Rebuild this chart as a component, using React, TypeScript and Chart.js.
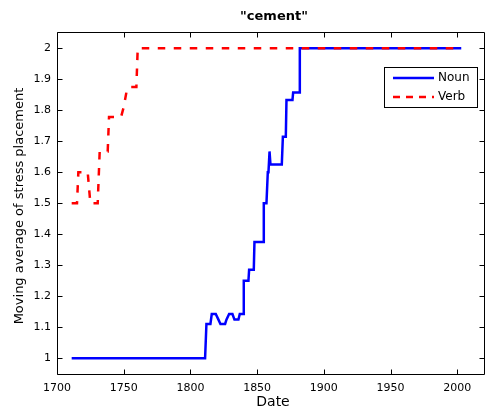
import React, { useEffect, useRef } from "react";
import { Chart, registerables } from "chart.js";

Chart.register(...registerables);

const TITLE = '"cement"';
const X_LABEL = "Date";
const Y_LABEL = "Moving average of stress placement";
const X_TICKS = [1700, 1750, 1800, 1850, 1900, 1950, 2000];
const Y_TICKS = [1, 1.1, 1.2, 1.3, 1.4, 1.5, 1.6, 1.7, 1.8, 1.9, 2];
const X_MIN = 1700;
const X_MAX = 2020.8;
const Y_MIN = 0.948;
const Y_MAX = 2.052;

const NOUN_YEARS = [1711, 1811, 1812, 1815, 1816, 1819, 1821, 1822.5, 1826, 1827, 1829, 1831.5, 1833, 1836, 1837, 1839.5, 1840, 1843.5, 1844, 1847.5, 1848, 1854.5, 1855, 1857, 1858, 1858.5, 1859.3, 1860, 1868.5, 1869.3, 1871.5, 1872, 1876.5, 1877, 1881.5, 1882, 2003];
const NOUN_VALUES = [1, 1, 1.111, 1.111, 1.143, 1.143, 1.125, 1.111, 1.111, 1.125, 1.143, 1.143, 1.125, 1.125, 1.143, 1.143, 1.25, 1.25, 1.286, 1.286, 1.375, 1.375, 1.5, 1.5, 1.6, 1.6, 1.667, 1.625, 1.625, 1.714, 1.714, 1.833, 1.833, 1.857, 1.857, 2, 2];

const VERB_YEARS = [1711, 1715, 1716, 1720, 1723, 1725, 1730.5, 1732, 1738, 1739, 1748, 1750, 1752, 1754, 1759.5, 1760.5, 2003];
const VERB_VALUES = [1.5, 1.5, 1.6, 1.6, 1.6, 1.5, 1.5, 1.667, 1.667, 1.778, 1.778, 1.81, 1.857, 1.875, 1.875, 2, 2];

const FONT = "'DejaVu Sans', sans-serif";

const boxPlugin = {
  id: "matlabBox",
  afterDraw(chart: any) {
    const { ctx, chartArea } = chart;
    const { left, right, top, bottom } = chartArea;
    const xs = chart.scales.x;
    const ys = chart.scales.y;
    ctx.save();
    ctx.strokeStyle = "#000";
    ctx.lineWidth = 1;
    ctx.beginPath();
    const L = Math.round(left) + 0.5;
    const R = Math.round(right) - 0.5;
    const T = Math.round(top) + 0.5;
    const B = Math.round(bottom) - 0.5;
    ctx.rect(L, T, R - L, B - T);
    const tl = 5;
    for (const v of X_TICKS) {
      const px = Math.round(xs.getPixelForValue(v)) + 0.5;
      ctx.moveTo(px, B);
      ctx.lineTo(px, B - tl);
      ctx.moveTo(px, T);
      ctx.lineTo(px, T + tl);
    }
    for (const v of Y_TICKS) {
      const py = Math.round(ys.getPixelForValue(v)) + 0.5;
      ctx.moveTo(L, py);
      ctx.lineTo(L + tl, py);
      ctx.moveTo(R, py);
      ctx.lineTo(R - tl, py);
    }
    ctx.stroke();

    // title
    ctx.fillStyle = "#000";
    ctx.font = "bold 13px " + FONT;
    ctx.textAlign = "center";
    ctx.textBaseline = "middle";
    ctx.fillText(TITLE, 274, 17);

    // x label
    ctx.font = "14px " + FONT;
    ctx.fillText(X_LABEL, 273, 402);

    // y label
    ctx.save();
    ctx.translate(20, 206);
    ctx.rotate(-Math.PI / 2);
    ctx.font = "13px " + FONT;
    ctx.fillText(Y_LABEL, 0, 0);
    ctx.restore();

    // legend
    const bx = 384.5, by = 67.5, bw = 93, bh = 40;
    ctx.fillStyle = "#fff";
    ctx.fillRect(bx, by, bw, bh);
    ctx.strokeStyle = "#000";
    ctx.lineWidth = 1;
    ctx.strokeRect(bx, by, bw, bh);

    ctx.lineWidth = 2.5;
    ctx.strokeStyle = "#0000ff";
    ctx.beginPath();
    ctx.moveTo(393, 78);
    ctx.lineTo(434, 78);
    ctx.stroke();

    ctx.strokeStyle = "#ff0000";
    ctx.setLineDash([7, 6]);
    ctx.lineCap = "butt";
    ctx.beginPath();
    ctx.moveTo(393, 97);
    ctx.lineTo(434, 97);
    ctx.stroke();
    ctx.setLineDash([]);

    ctx.fillStyle = "#000";
    ctx.font = "12px " + FONT;
    ctx.textAlign = "left";
    ctx.textBaseline = "middle";
    ctx.fillText("Noun", 438, 78);
    ctx.fillText("Verb", 438, 97);

    ctx.restore();
  },
};

export default function App() {
  const ref = useRef<HTMLCanvasElement>(null);

  useEffect(() => {
    if (!ref.current) return;
    const nounData = NOUN_YEARS.map((x, i) => ({ x, y: NOUN_VALUES[i] }));
    const verbData = VERB_YEARS.map((x, i) => ({ x, y: VERB_VALUES[i] }));
    const chart = new Chart(ref.current, {
      type: "line",
      data: {
        datasets: [
          {
            label: "Noun",
            data: nounData,
            borderColor: "#0000ff",
            borderWidth: 2.5,
            pointRadius: 0,
            tension: 0,
            order: 1,
          },
          {
            label: "Verb",
            data: verbData,
            borderColor: "#ff0000",
            borderWidth: 2.5,
            borderDash: [7.5, 8.5],
            borderCapStyle: "butt",
            pointRadius: 0,
            tension: 0,
            order: 0,
          },
        ],
      },
      options: {
        responsive: false,
        animation: false,
        devicePixelRatio: 1,
        layout: { padding: { top: 32, right: 2, left: 0, bottom: 0 } },
        plugins: {
          legend: { display: false },
          title: { display: false },
          tooltip: { enabled: false },
        },
        scales: {
          x: {
            type: "linear",
            min: X_MIN,
            max: X_MAX,
            grid: { display: false, drawTicks: false },
            border: { display: false },
            afterBuildTicks: (s: any) => {
              s.ticks = X_TICKS.map((v) => ({ value: v }));
            },
            afterFit: (s: any) => {
              s.height = 38.5;
            },
            ticks: {
              color: "#000",
              padding: 7,
              maxRotation: 0,
              autoSkip: false,
              font: { family: FONT, size: 11 },
              callback: (v: any) => String(v),
            },
          },
          y: {
            type: "linear",
            min: Y_MIN,
            max: Y_MAX,
            grid: { display: false, drawTicks: false },
            border: { display: false },
            afterBuildTicks: (s: any) => {
              s.ticks = Y_TICKS.map((v) => ({ value: v }));
            },
            afterFit: (s: any) => {
              s.width = 57;
            },
            ticks: {
              color: "#000",
              padding: 6,
              autoSkip: false,
              font: { family: FONT, size: 11 },
              callback: (v: any) => String(Math.round(Number(v) * 10) / 10),
            },
          },
        },
      },
      plugins: [boxPlugin],
    });
    return () => chart.destroy();
  }, []);

  return (
    <div style={{ position: "absolute", left: 0, top: 0, width: 487, height: 413, background: "#fff" }}>
      <canvas ref={ref} width={487} height={413} style={{ display: "block", width: 487, height: 413 }} />
    </div>
  );
}
